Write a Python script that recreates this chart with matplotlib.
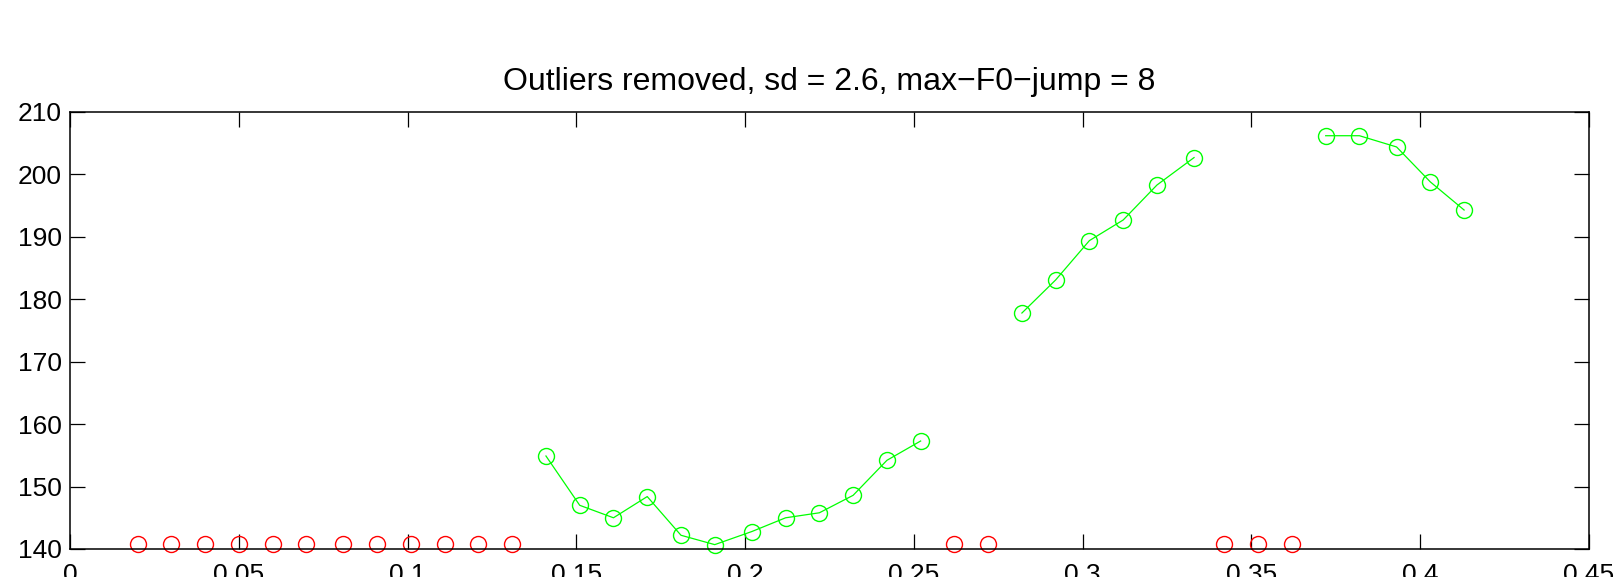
import numpy as np
import matplotlib
matplotlib.use("Agg")
import matplotlib.pyplot as plt

plt.rcParams['font.family'] = ['Liberation Sans', 'DejaVu Sans']

# frame times (s)
times = [0.020, 0.030, 0.040, 0.050, 0.060, 0.070, 0.081, 0.091, 0.101, 0.111,
         0.121, 0.131, 0.141, 0.151, 0.161, 0.171, 0.181, 0.191, 0.202, 0.212,
         0.222, 0.232, 0.242, 0.252, 0.262, 0.272, 0.282, 0.292, 0.302, 0.312,
         0.322, 0.333, 0.342, 0.352, 0.362, 0.372, 0.382, 0.393, 0.403, 0.413]

nan = float('nan')
# kept F0 values (NaN where removed)
f0_kept = [nan] * 12 + [154.9, 147.0, 145.0, 148.4, 142.2, 140.7, 142.8, 145.0,
                        145.8, 148.6, 154.2, 157.3] + [nan, nan] + \
          [177.8, 183.1, 189.4, 192.7, 198.3, 202.7] + [nan, nan, nan] + \
          [206.2, 206.2, 204.4, 198.8, 194.3]
# removed frames, drawn at the floor
removed_level = 140.8
removed_times = times[0:12] + times[24:26] + times[32:35]
removed_vals = [removed_level] * len(removed_times)

xticks = [0, 0.05, 0.1, 0.15, 0.2, 0.25, 0.3, 0.35, 0.4, 0.45]
xticklabels = ['0', '0.05', '0.1', '0.15', '0.2', '0.25', '0.3', '0.35', '0.4', '0.45']
yticks = [140, 150, 160, 170, 180, 190, 200, 210]

fig = plt.figure(figsize=(16.15, 5.77), dpi=100)
ax = fig.add_axes([70/1615, 1 - 549/577, (1589-70)/1615, (549-112)/577])

ax.plot(times, f0_kept, '-', color=(0, 1, 0), lw=0.9, marker='o', ms=11.5,
        mfc='none', mec=(0, 1, 0), mew=1.0, clip_on=False)
ax.plot(removed_times, removed_vals, 'o', ms=11.5, mfc='none', mec=(1, 0, 0),
        mew=1.0, clip_on=False)

ax.set_xlim(0, 0.45)
ax.set_ylim(140, 210)
ax.set_xticks(xticks)
ax.set_xticklabels(xticklabels)
ax.set_yticks(yticks)
ax.tick_params(direction='in', length=11, width=0.9, top=True, right=True,
               labelsize=19)
ax.tick_params(axis='x', pad=10)
ax.tick_params(axis='y', pad=6)
for s in ax.spines.values():
    s.set_linewidth(1.1)

ax.set_title('Outliers removed, sd = 2.6, max\u2212F0\u2212jump = 8', fontsize=23, pad=16)

fig.savefig('out.png', dpi=100)
